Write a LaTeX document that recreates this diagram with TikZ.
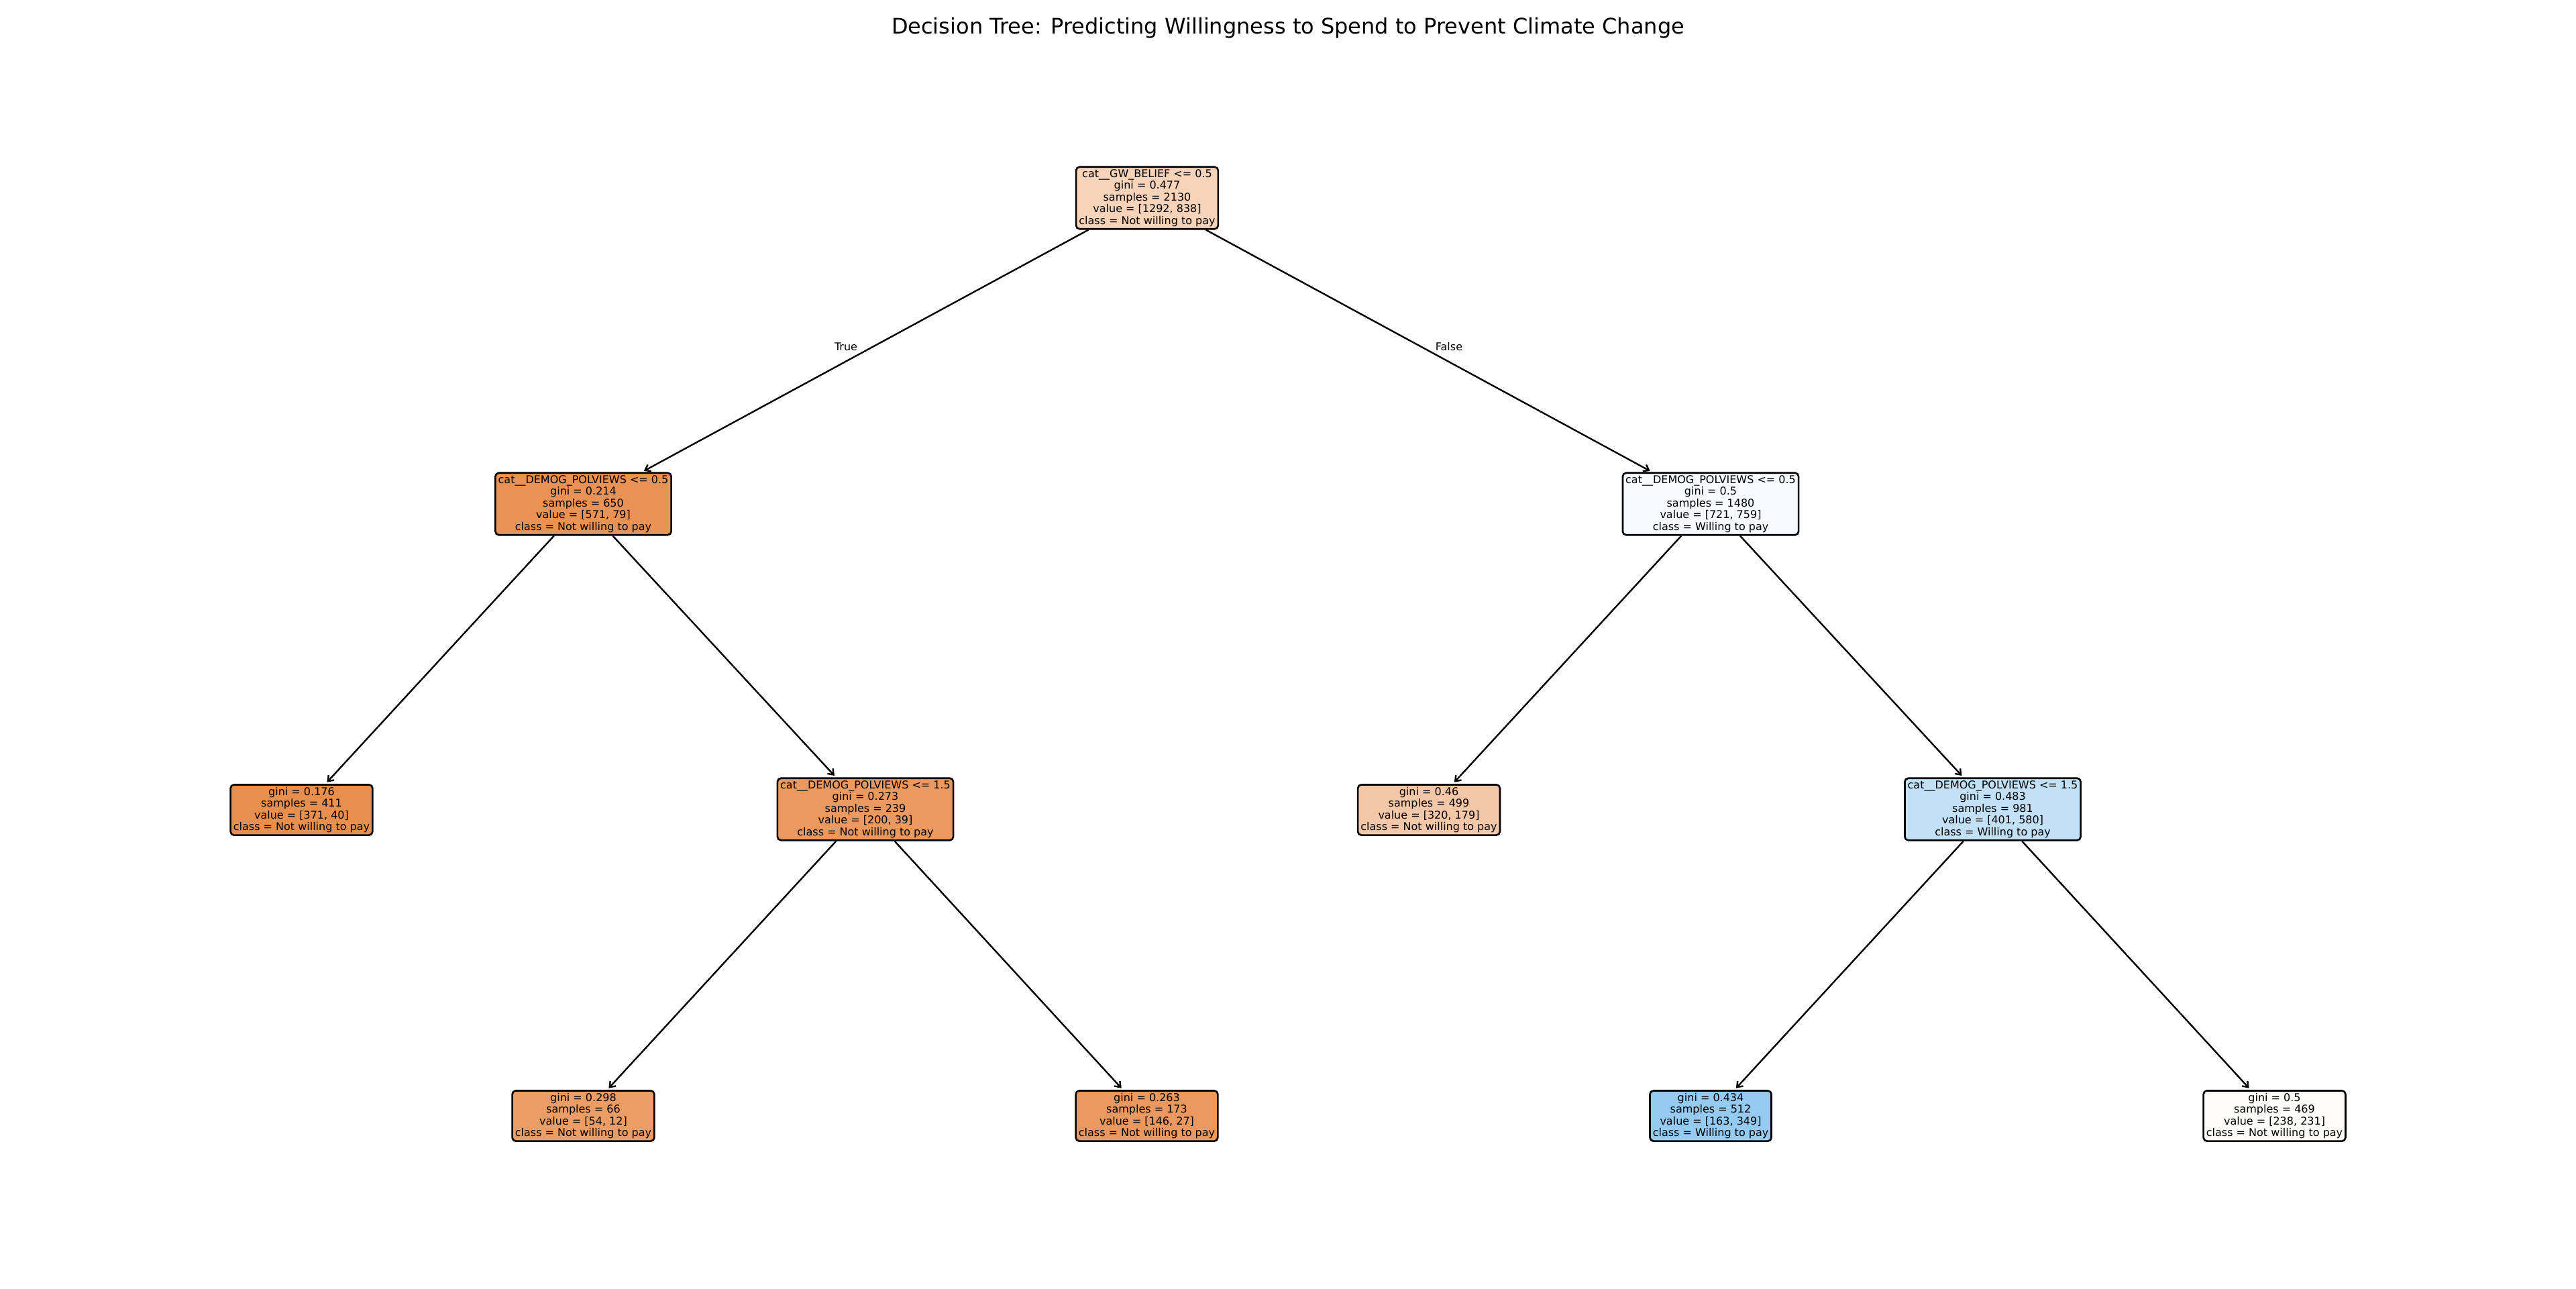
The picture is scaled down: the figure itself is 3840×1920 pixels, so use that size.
\documentclass[tikz,border=0pt]{standalone}
\usepackage{fontspec}
\setmainfont{DejaVu Sans}
\usetikzlibrary{arrows.meta}
\definecolor{cRoot}{RGB}{246,211,185}
\definecolor{cLa}{RGB}{233,146,84}
\definecolor{cRa}{RGB}{245,250,254}
\definecolor{cLL}{RGB}{232,143,78}
\definecolor{cLR}{RGB}{234,154,96}
\definecolor{cRL}{RGB}{244,199,168}
\definecolor{cRR}{RGB}{194,225,247}
\definecolor{cLRL}{RGB}{235,157,101}
\definecolor{cLRR}{RGB}{234,152,94}
\definecolor{cRRL}{RGB}{149,203,241}
\definecolor{cRRR}{RGB}{254,251,249}
\begin{document}
\begin{tikzpicture}[x=0.375bp,y=-0.375bp,
  treenode/.style={draw=black, line width=1bp, rounded corners=2bp, align=center,
    font=\fontsize{6bp}{6.6bp}\selectfont, inner xsep=1.6bp, inner ysep=1.3bp, text=black},
  treeedge/.style={line width=0.9bp, shorten >=1.2bp, -{Straight Barb[length=2.8bp,width=4.2bp]}},
  edgelabel/.style={font=\fontsize{6bp}{6.6bp}\selectfont, inner sep=0pt}]
\useasboundingbox (0,0) rectangle (3840,1920);
\node (title) at (1920,42) {\fontsize{12bp}{14bp}\selectfont Decision Tree: Predicting Willingness to Spend to Prevent Climate Change};
\node[treenode, fill=cRoot] (root) at (1710,295) {cat\_\_GW\_BELIEF <= 0.5\\gini = 0.477\\samples = 2130\\value = [1292, 838]\\class = Not willing to pay};
\node[treenode, fill=cLa] (la) at (869.5,751) {cat\_\_DEMOG\_POLVIEWS <= 0.5\\gini = 0.214\\samples = 650\\value = [571, 79]\\class = Not willing to pay};
\node[treenode, fill=cRa] (ra) at (2550,751) {cat\_\_DEMOG\_POLVIEWS <= 0.5\\gini = 0.5\\samples = 1480\\value = [721, 759]\\class = Willing to pay};
\node[treenode, fill=cLL] (ll) at (449.5,1207) {gini = 0.176\\samples = 411\\value = [371, 40]\\class = Not willing to pay};
\node[treenode, fill=cLR] (lr) at (1290,1206) {cat\_\_DEMOG\_POLVIEWS <= 1.5\\gini = 0.273\\samples = 239\\value = [200, 39]\\class = Not willing to pay};
\node[treenode, fill=cRL] (rl) at (2130,1207) {gini = 0.46\\samples = 499\\value = [320, 179]\\class = Not willing to pay};
\node[treenode, fill=cRR] (rr) at (2970.5,1206) {cat\_\_DEMOG\_POLVIEWS <= 1.5\\gini = 0.483\\samples = 981\\value = [401, 580]\\class = Willing to pay};
\node[treenode, fill=cLRL] (lrl) at (869.5,1663) {gini = 0.298\\samples = 66\\value = [54, 12]\\class = Not willing to pay};
\node[treenode, fill=cLRR] (lrr) at (1709.5,1663) {gini = 0.263\\samples = 173\\value = [146, 27]\\class = Not willing to pay};
\node[treenode, fill=cRRL] (rrl) at (2550,1663) {gini = 0.434\\samples = 512\\value = [163, 349]\\class = Willing to pay};
\node[treenode, fill=cRRR] (rrr) at (3390.5,1663) {gini = 0.5\\samples = 469\\value = [238, 231]\\class = Not willing to pay};
\draw[treeedge] (root) -- (la);
\draw[treeedge] (root) -- (ra);
\draw[treeedge] (la) -- (ll);
\draw[treeedge] (la) -- (lr);
\draw[treeedge] (ra) -- (rl);
\draw[treeedge] (ra) -- (rr);
\draw[treeedge] (lr) -- (lrl);
\draw[treeedge] (lr) -- (lrr);
\draw[treeedge] (rr) -- (rrl);
\draw[treeedge] (rr) -- (rrr);
\node[edgelabel] (ltrue) at (1261,517) {True};
\node[edgelabel] (lfalse) at (2160,517) {False};
\end{tikzpicture}
\end{document}
